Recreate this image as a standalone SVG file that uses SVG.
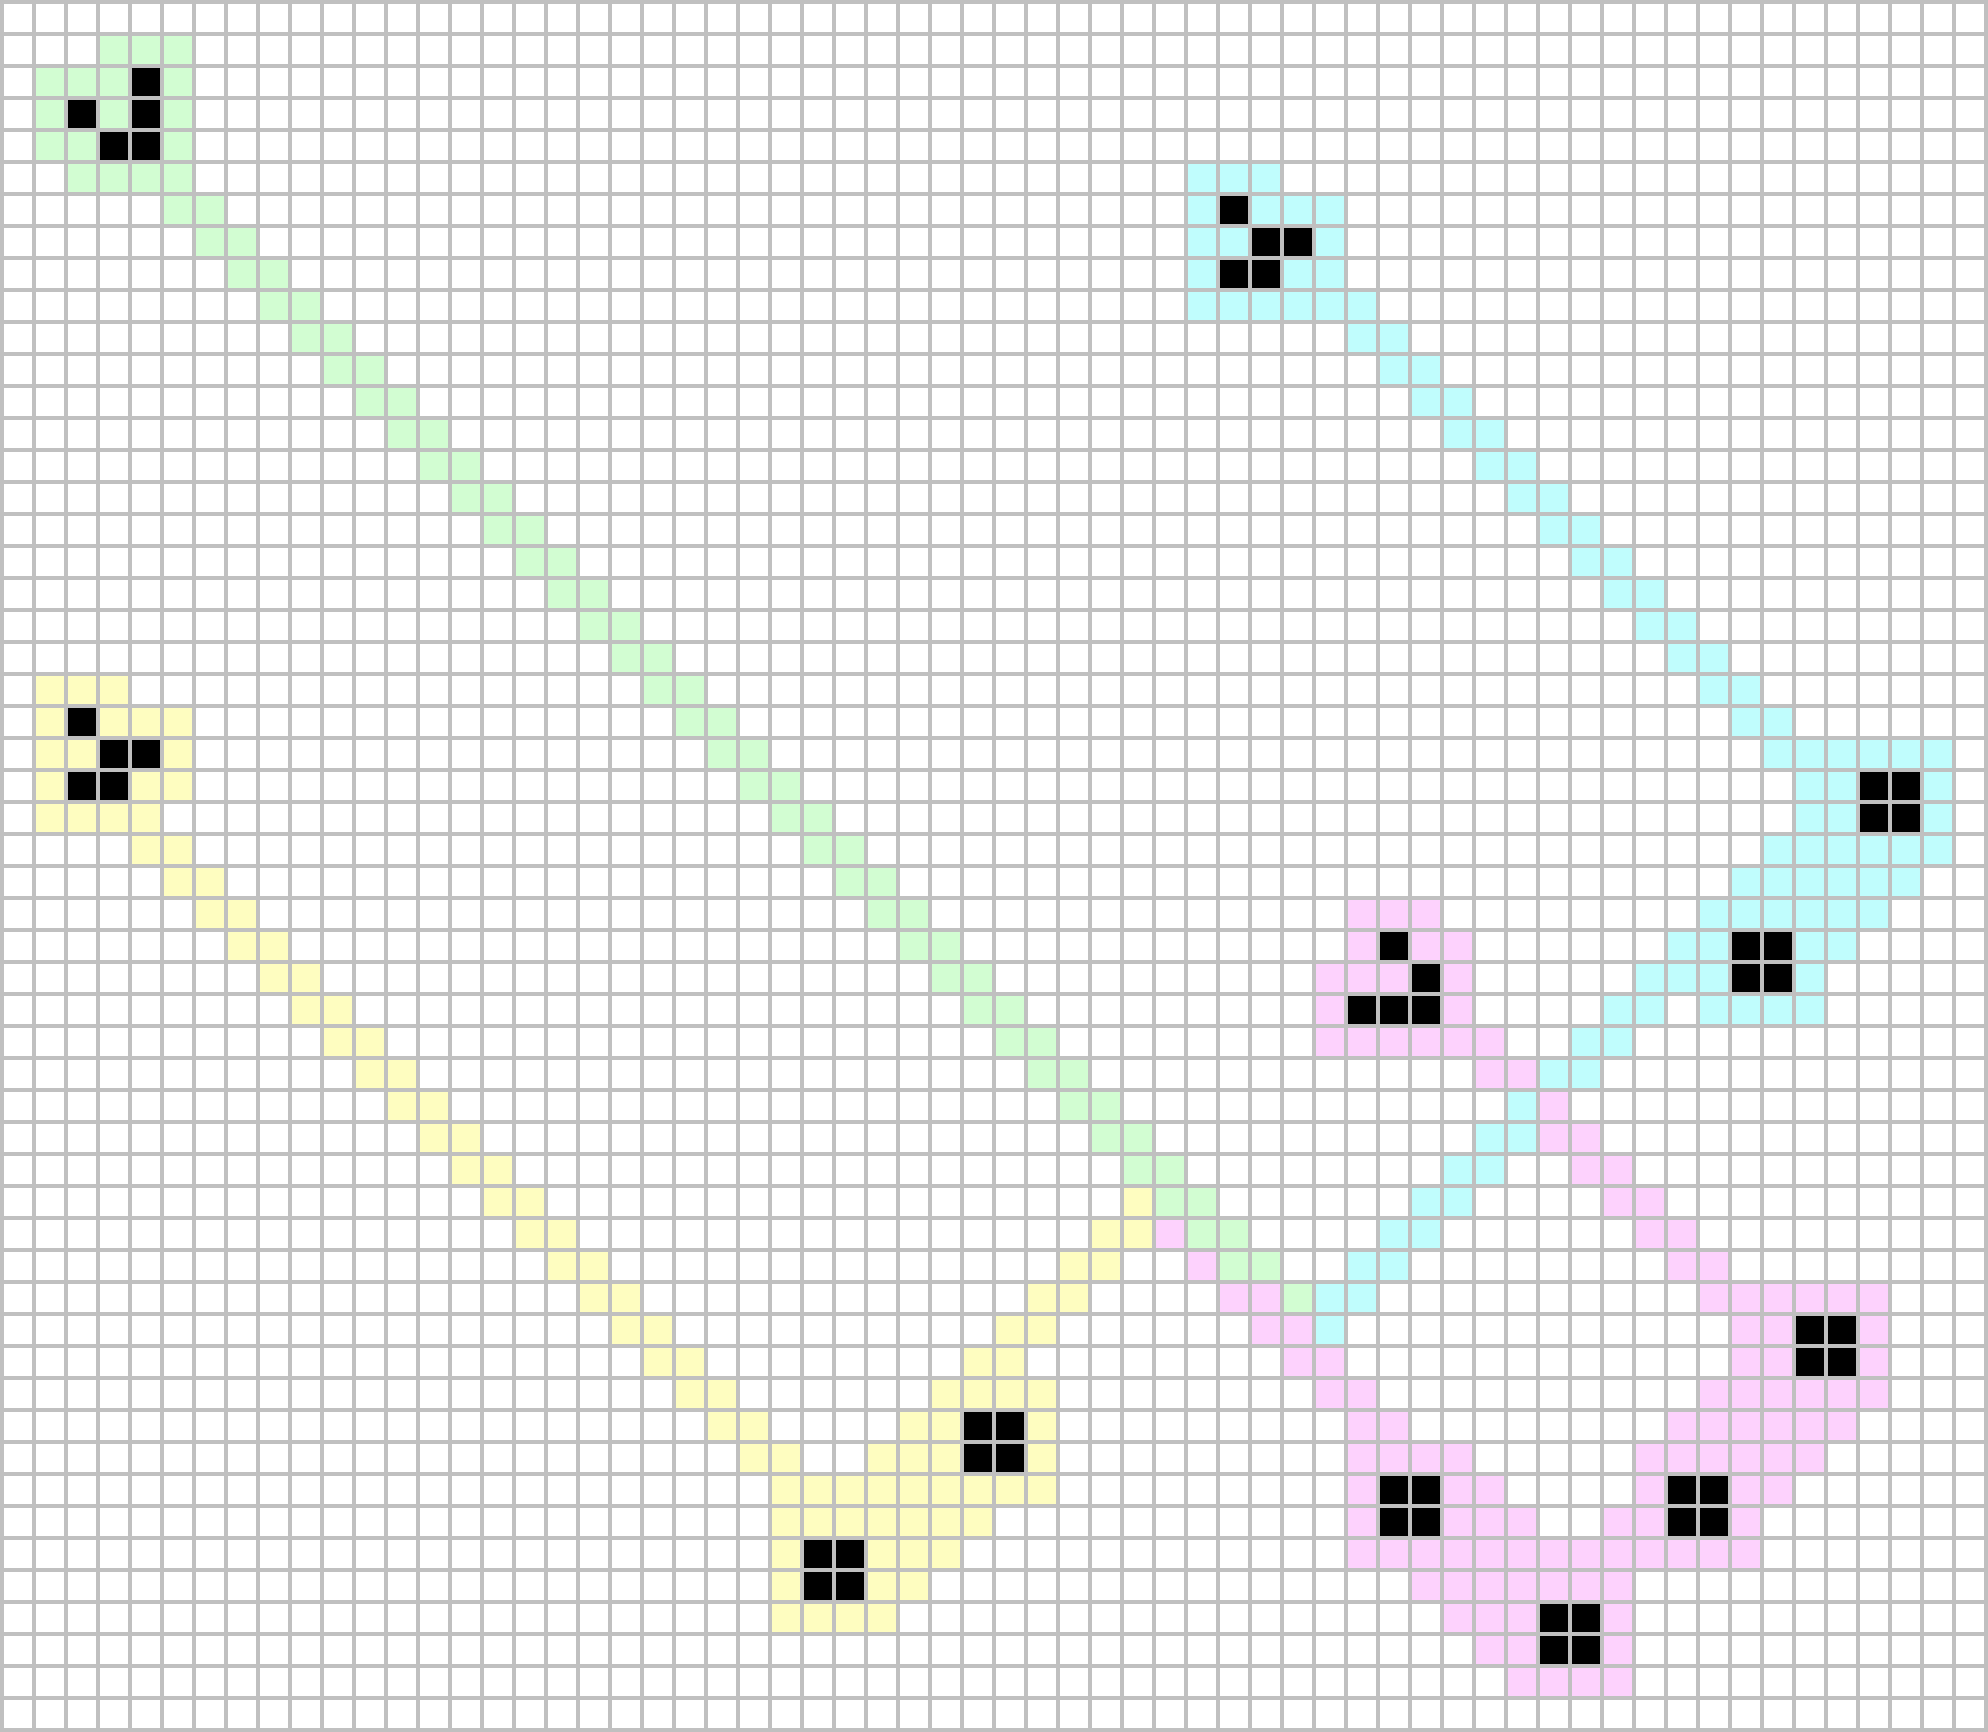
<svg xmlns="http://www.w3.org/2000/svg" xmlns:xlink="http://www.w3.org/1999/xlink" width="1988" height="1732" viewBox="0 0 1988 1732">
<style>
.bg{fill:#c0c0c0}
.g{fill:#d2fdd2}
.y{fill:#fefdc0}
.c{fill:#c0fdfd}
.p{fill:#fdd2fd}
.k{fill:#000}
</style>
<defs>
<pattern id="grid" width="32" height="32" patternUnits="userSpaceOnUse"><rect x="4" y="4" width="28" height="28" fill="#fff"/></pattern>
<rect id="q" width="0.875" height="0.875"/>
</defs>
<rect class="bg" x="0" y="0" width="1988" height="1732"/>
<rect x="0" y="0" width="1984" height="1728" fill="url(#grid)"/>
<g transform="translate(4 4) scale(32)">
<g id="green" class="g">
<use href="#q" x="3" y="1"/><use href="#q" x="4" y="1"/><use href="#q" x="5" y="1"/>
<use href="#q" x="1" y="2"/><use href="#q" x="2" y="2"/><use href="#q" x="3" y="2"/><use href="#q" x="5" y="2"/>
<use href="#q" x="1" y="3"/><use href="#q" x="3" y="3"/><use href="#q" x="5" y="3"/>
<use href="#q" x="1" y="4"/><use href="#q" x="2" y="4"/><use href="#q" x="5" y="4"/>
<use href="#q" x="2" y="5"/><use href="#q" x="3" y="5"/><use href="#q" x="4" y="5"/><use href="#q" x="5" y="5"/>
<use href="#q" x="5" y="6"/><use href="#q" x="6" y="6"/>
<use href="#q" x="6" y="7"/><use href="#q" x="7" y="7"/>
<use href="#q" x="7" y="8"/><use href="#q" x="8" y="8"/>
<use href="#q" x="8" y="9"/><use href="#q" x="9" y="9"/>
<use href="#q" x="9" y="10"/><use href="#q" x="10" y="10"/>
<use href="#q" x="10" y="11"/><use href="#q" x="11" y="11"/>
<use href="#q" x="11" y="12"/><use href="#q" x="12" y="12"/>
<use href="#q" x="12" y="13"/><use href="#q" x="13" y="13"/>
<use href="#q" x="13" y="14"/><use href="#q" x="14" y="14"/>
<use href="#q" x="14" y="15"/><use href="#q" x="15" y="15"/>
<use href="#q" x="15" y="16"/><use href="#q" x="16" y="16"/>
<use href="#q" x="16" y="17"/><use href="#q" x="17" y="17"/>
<use href="#q" x="17" y="18"/><use href="#q" x="18" y="18"/>
<use href="#q" x="18" y="19"/><use href="#q" x="19" y="19"/>
<use href="#q" x="19" y="20"/><use href="#q" x="20" y="20"/>
<use href="#q" x="20" y="21"/><use href="#q" x="21" y="21"/>
<use href="#q" x="21" y="22"/><use href="#q" x="22" y="22"/>
<use href="#q" x="22" y="23"/><use href="#q" x="23" y="23"/>
<use href="#q" x="23" y="24"/><use href="#q" x="24" y="24"/>
<use href="#q" x="24" y="25"/><use href="#q" x="25" y="25"/>
<use href="#q" x="25" y="26"/><use href="#q" x="26" y="26"/>
<use href="#q" x="26" y="27"/><use href="#q" x="27" y="27"/>
<use href="#q" x="27" y="28"/><use href="#q" x="28" y="28"/>
<use href="#q" x="28" y="29"/><use href="#q" x="29" y="29"/>
<use href="#q" x="29" y="30"/><use href="#q" x="30" y="30"/>
<use href="#q" x="30" y="31"/><use href="#q" x="31" y="31"/>
<use href="#q" x="31" y="32"/><use href="#q" x="32" y="32"/>
<use href="#q" x="32" y="33"/><use href="#q" x="33" y="33"/>
<use href="#q" x="33" y="34"/><use href="#q" x="34" y="34"/>
<use href="#q" x="34" y="35"/><use href="#q" x="35" y="35"/>
<use href="#q" x="35" y="36"/><use href="#q" x="36" y="36"/>
<use href="#q" x="36" y="37"/><use href="#q" x="37" y="37"/>
<use href="#q" x="37" y="38"/><use href="#q" x="38" y="38"/>
<use href="#q" x="38" y="39"/><use href="#q" x="39" y="39"/>
<use href="#q" x="40" y="40"/>
</g>
<g id="yellow" class="y">
<use href="#q" x="1" y="21"/><use href="#q" x="2" y="21"/><use href="#q" x="3" y="21"/>
<use href="#q" x="1" y="22"/><use href="#q" x="3" y="22"/><use href="#q" x="4" y="22"/><use href="#q" x="5" y="22"/>
<use href="#q" x="1" y="23"/><use href="#q" x="2" y="23"/><use href="#q" x="5" y="23"/>
<use href="#q" x="1" y="24"/><use href="#q" x="4" y="24"/><use href="#q" x="5" y="24"/>
<use href="#q" x="1" y="25"/><use href="#q" x="2" y="25"/><use href="#q" x="3" y="25"/><use href="#q" x="4" y="25"/>
<use href="#q" x="4" y="26"/><use href="#q" x="5" y="26"/>
<use href="#q" x="5" y="27"/><use href="#q" x="6" y="27"/>
<use href="#q" x="6" y="28"/><use href="#q" x="7" y="28"/>
<use href="#q" x="7" y="29"/><use href="#q" x="8" y="29"/>
<use href="#q" x="8" y="30"/><use href="#q" x="9" y="30"/>
<use href="#q" x="9" y="31"/><use href="#q" x="10" y="31"/>
<use href="#q" x="10" y="32"/><use href="#q" x="11" y="32"/>
<use href="#q" x="11" y="33"/><use href="#q" x="12" y="33"/>
<use href="#q" x="12" y="34"/><use href="#q" x="13" y="34"/>
<use href="#q" x="13" y="35"/><use href="#q" x="14" y="35"/>
<use href="#q" x="14" y="36"/><use href="#q" x="15" y="36"/>
<use href="#q" x="15" y="37"/><use href="#q" x="16" y="37"/><use href="#q" x="35" y="37"/>
<use href="#q" x="16" y="38"/><use href="#q" x="17" y="38"/><use href="#q" x="34" y="38"/><use href="#q" x="35" y="38"/>
<use href="#q" x="17" y="39"/><use href="#q" x="18" y="39"/><use href="#q" x="33" y="39"/><use href="#q" x="34" y="39"/>
<use href="#q" x="18" y="40"/><use href="#q" x="19" y="40"/><use href="#q" x="32" y="40"/><use href="#q" x="33" y="40"/>
<use href="#q" x="19" y="41"/><use href="#q" x="20" y="41"/><use href="#q" x="31" y="41"/><use href="#q" x="32" y="41"/>
<use href="#q" x="20" y="42"/><use href="#q" x="21" y="42"/><use href="#q" x="30" y="42"/><use href="#q" x="31" y="42"/>
<use href="#q" x="21" y="43"/><use href="#q" x="22" y="43"/><use href="#q" x="29" y="43"/><use href="#q" x="30" y="43"/><use href="#q" x="31" y="43"/><use href="#q" x="32" y="43"/>
<use href="#q" x="22" y="44"/><use href="#q" x="23" y="44"/><use href="#q" x="28" y="44"/><use href="#q" x="29" y="44"/><use href="#q" x="32" y="44"/>
<use href="#q" x="23" y="45"/><use href="#q" x="24" y="45"/><use href="#q" x="27" y="45"/><use href="#q" x="28" y="45"/><use href="#q" x="29" y="45"/><use href="#q" x="32" y="45"/>
<use href="#q" x="24" y="46"/><use href="#q" x="25" y="46"/><use href="#q" x="26" y="46"/><use href="#q" x="27" y="46"/><use href="#q" x="28" y="46"/><use href="#q" x="29" y="46"/><use href="#q" x="30" y="46"/><use href="#q" x="31" y="46"/><use href="#q" x="32" y="46"/>
<use href="#q" x="24" y="47"/><use href="#q" x="25" y="47"/><use href="#q" x="26" y="47"/><use href="#q" x="27" y="47"/><use href="#q" x="28" y="47"/><use href="#q" x="29" y="47"/><use href="#q" x="30" y="47"/>
<use href="#q" x="24" y="48"/><use href="#q" x="27" y="48"/><use href="#q" x="28" y="48"/><use href="#q" x="29" y="48"/>
<use href="#q" x="24" y="49"/><use href="#q" x="27" y="49"/><use href="#q" x="28" y="49"/>
<use href="#q" x="24" y="50"/><use href="#q" x="25" y="50"/><use href="#q" x="26" y="50"/><use href="#q" x="27" y="50"/>
</g>
<g id="cyan" class="c">
<use href="#q" x="37" y="5"/><use href="#q" x="38" y="5"/><use href="#q" x="39" y="5"/>
<use href="#q" x="37" y="6"/><use href="#q" x="39" y="6"/><use href="#q" x="40" y="6"/><use href="#q" x="41" y="6"/>
<use href="#q" x="37" y="7"/><use href="#q" x="38" y="7"/><use href="#q" x="41" y="7"/>
<use href="#q" x="37" y="8"/><use href="#q" x="40" y="8"/><use href="#q" x="41" y="8"/>
<use href="#q" x="37" y="9"/><use href="#q" x="38" y="9"/><use href="#q" x="39" y="9"/><use href="#q" x="40" y="9"/><use href="#q" x="41" y="9"/><use href="#q" x="42" y="9"/>
<use href="#q" x="42" y="10"/><use href="#q" x="43" y="10"/>
<use href="#q" x="43" y="11"/><use href="#q" x="44" y="11"/>
<use href="#q" x="44" y="12"/><use href="#q" x="45" y="12"/>
<use href="#q" x="45" y="13"/><use href="#q" x="46" y="13"/>
<use href="#q" x="46" y="14"/><use href="#q" x="47" y="14"/>
<use href="#q" x="47" y="15"/><use href="#q" x="48" y="15"/>
<use href="#q" x="48" y="16"/><use href="#q" x="49" y="16"/>
<use href="#q" x="49" y="17"/><use href="#q" x="50" y="17"/>
<use href="#q" x="50" y="18"/><use href="#q" x="51" y="18"/>
<use href="#q" x="51" y="19"/><use href="#q" x="52" y="19"/>
<use href="#q" x="52" y="20"/><use href="#q" x="53" y="20"/>
<use href="#q" x="53" y="21"/><use href="#q" x="54" y="21"/>
<use href="#q" x="54" y="22"/><use href="#q" x="55" y="22"/>
<use href="#q" x="55" y="23"/><use href="#q" x="56" y="23"/><use href="#q" x="57" y="23"/><use href="#q" x="58" y="23"/><use href="#q" x="59" y="23"/><use href="#q" x="60" y="23"/>
<use href="#q" x="56" y="24"/><use href="#q" x="57" y="24"/><use href="#q" x="60" y="24"/>
<use href="#q" x="56" y="25"/><use href="#q" x="57" y="25"/><use href="#q" x="60" y="25"/>
<use href="#q" x="55" y="26"/><use href="#q" x="56" y="26"/><use href="#q" x="57" y="26"/><use href="#q" x="58" y="26"/><use href="#q" x="59" y="26"/><use href="#q" x="60" y="26"/>
<use href="#q" x="54" y="27"/><use href="#q" x="55" y="27"/><use href="#q" x="56" y="27"/><use href="#q" x="57" y="27"/><use href="#q" x="58" y="27"/><use href="#q" x="59" y="27"/>
<use href="#q" x="53" y="28"/><use href="#q" x="54" y="28"/><use href="#q" x="55" y="28"/><use href="#q" x="56" y="28"/><use href="#q" x="57" y="28"/><use href="#q" x="58" y="28"/>
<use href="#q" x="52" y="29"/><use href="#q" x="53" y="29"/><use href="#q" x="56" y="29"/><use href="#q" x="57" y="29"/>
<use href="#q" x="51" y="30"/><use href="#q" x="52" y="30"/><use href="#q" x="53" y="30"/><use href="#q" x="56" y="30"/>
<use href="#q" x="50" y="31"/><use href="#q" x="51" y="31"/><use href="#q" x="53" y="31"/><use href="#q" x="54" y="31"/><use href="#q" x="55" y="31"/><use href="#q" x="56" y="31"/>
<use href="#q" x="49" y="32"/><use href="#q" x="50" y="32"/>
<use href="#q" x="48" y="33"/><use href="#q" x="49" y="33"/>
<use href="#q" x="47" y="34"/>
<use href="#q" x="46" y="35"/><use href="#q" x="47" y="35"/>
<use href="#q" x="45" y="36"/><use href="#q" x="46" y="36"/>
<use href="#q" x="44" y="37"/><use href="#q" x="45" y="37"/>
<use href="#q" x="43" y="38"/><use href="#q" x="44" y="38"/>
<use href="#q" x="42" y="39"/><use href="#q" x="43" y="39"/>
<use href="#q" x="41" y="40"/><use href="#q" x="42" y="40"/>
<use href="#q" x="41" y="41"/>
</g>
<g id="pink" class="p">
<use href="#q" x="42" y="28"/><use href="#q" x="43" y="28"/><use href="#q" x="44" y="28"/>
<use href="#q" x="42" y="29"/><use href="#q" x="44" y="29"/><use href="#q" x="45" y="29"/>
<use href="#q" x="41" y="30"/><use href="#q" x="42" y="30"/><use href="#q" x="43" y="30"/><use href="#q" x="45" y="30"/>
<use href="#q" x="41" y="31"/><use href="#q" x="45" y="31"/>
<use href="#q" x="41" y="32"/><use href="#q" x="42" y="32"/><use href="#q" x="43" y="32"/><use href="#q" x="44" y="32"/><use href="#q" x="45" y="32"/><use href="#q" x="46" y="32"/>
<use href="#q" x="46" y="33"/><use href="#q" x="47" y="33"/>
<use href="#q" x="48" y="34"/>
<use href="#q" x="48" y="35"/><use href="#q" x="49" y="35"/>
<use href="#q" x="49" y="36"/><use href="#q" x="50" y="36"/>
<use href="#q" x="50" y="37"/><use href="#q" x="51" y="37"/>
<use href="#q" x="36" y="38"/><use href="#q" x="51" y="38"/><use href="#q" x="52" y="38"/>
<use href="#q" x="37" y="39"/><use href="#q" x="52" y="39"/><use href="#q" x="53" y="39"/>
<use href="#q" x="38" y="40"/><use href="#q" x="39" y="40"/><use href="#q" x="53" y="40"/><use href="#q" x="54" y="40"/><use href="#q" x="55" y="40"/><use href="#q" x="56" y="40"/><use href="#q" x="57" y="40"/><use href="#q" x="58" y="40"/>
<use href="#q" x="39" y="41"/><use href="#q" x="40" y="41"/><use href="#q" x="54" y="41"/><use href="#q" x="55" y="41"/><use href="#q" x="58" y="41"/>
<use href="#q" x="40" y="42"/><use href="#q" x="41" y="42"/><use href="#q" x="54" y="42"/><use href="#q" x="55" y="42"/><use href="#q" x="58" y="42"/>
<use href="#q" x="41" y="43"/><use href="#q" x="42" y="43"/><use href="#q" x="53" y="43"/><use href="#q" x="54" y="43"/><use href="#q" x="55" y="43"/><use href="#q" x="56" y="43"/><use href="#q" x="57" y="43"/><use href="#q" x="58" y="43"/>
<use href="#q" x="42" y="44"/><use href="#q" x="43" y="44"/><use href="#q" x="52" y="44"/><use href="#q" x="53" y="44"/><use href="#q" x="54" y="44"/><use href="#q" x="55" y="44"/><use href="#q" x="56" y="44"/><use href="#q" x="57" y="44"/>
<use href="#q" x="42" y="45"/><use href="#q" x="43" y="45"/><use href="#q" x="44" y="45"/><use href="#q" x="45" y="45"/><use href="#q" x="51" y="45"/><use href="#q" x="52" y="45"/><use href="#q" x="53" y="45"/><use href="#q" x="54" y="45"/><use href="#q" x="55" y="45"/><use href="#q" x="56" y="45"/>
<use href="#q" x="42" y="46"/><use href="#q" x="45" y="46"/><use href="#q" x="46" y="46"/><use href="#q" x="51" y="46"/><use href="#q" x="54" y="46"/><use href="#q" x="55" y="46"/>
<use href="#q" x="42" y="47"/><use href="#q" x="45" y="47"/><use href="#q" x="46" y="47"/><use href="#q" x="47" y="47"/><use href="#q" x="50" y="47"/><use href="#q" x="51" y="47"/><use href="#q" x="54" y="47"/>
<use href="#q" x="42" y="48"/><use href="#q" x="43" y="48"/><use href="#q" x="44" y="48"/><use href="#q" x="45" y="48"/><use href="#q" x="46" y="48"/><use href="#q" x="47" y="48"/><use href="#q" x="48" y="48"/><use href="#q" x="49" y="48"/><use href="#q" x="50" y="48"/><use href="#q" x="51" y="48"/><use href="#q" x="52" y="48"/><use href="#q" x="53" y="48"/><use href="#q" x="54" y="48"/>
<use href="#q" x="44" y="49"/><use href="#q" x="45" y="49"/><use href="#q" x="46" y="49"/><use href="#q" x="47" y="49"/><use href="#q" x="48" y="49"/><use href="#q" x="49" y="49"/><use href="#q" x="50" y="49"/>
<use href="#q" x="45" y="50"/><use href="#q" x="46" y="50"/><use href="#q" x="47" y="50"/><use href="#q" x="50" y="50"/>
<use href="#q" x="46" y="51"/><use href="#q" x="47" y="51"/><use href="#q" x="50" y="51"/>
<use href="#q" x="47" y="52"/><use href="#q" x="48" y="52"/><use href="#q" x="49" y="52"/><use href="#q" x="50" y="52"/>
</g>
<g id="live" class="k">
<use href="#q" x="4" y="2"/><use href="#q" x="2" y="3"/><use href="#q" x="4" y="3"/><use href="#q" x="3" y="4"/><use href="#q" x="4" y="4"/>
<use href="#q" x="2" y="22"/><use href="#q" x="3" y="23"/><use href="#q" x="4" y="23"/><use href="#q" x="2" y="24"/><use href="#q" x="3" y="24"/>
<use href="#q" x="38" y="6"/><use href="#q" x="39" y="7"/><use href="#q" x="40" y="7"/><use href="#q" x="38" y="8"/><use href="#q" x="39" y="8"/>
<use href="#q" x="43" y="29"/><use href="#q" x="44" y="30"/><use href="#q" x="42" y="31"/><use href="#q" x="43" y="31"/><use href="#q" x="44" y="31"/>
<use href="#q" x="30" y="44"/><use href="#q" x="31" y="44"/><use href="#q" x="30" y="45"/><use href="#q" x="31" y="45"/>
<use href="#q" x="25" y="48"/><use href="#q" x="26" y="48"/><use href="#q" x="25" y="49"/><use href="#q" x="26" y="49"/>
<use href="#q" x="58" y="24"/><use href="#q" x="59" y="24"/><use href="#q" x="58" y="25"/><use href="#q" x="59" y="25"/>
<use href="#q" x="54" y="29"/><use href="#q" x="55" y="29"/><use href="#q" x="54" y="30"/><use href="#q" x="55" y="30"/>
<use href="#q" x="56" y="41"/><use href="#q" x="57" y="41"/><use href="#q" x="56" y="42"/><use href="#q" x="57" y="42"/>
<use href="#q" x="52" y="46"/><use href="#q" x="53" y="46"/><use href="#q" x="52" y="47"/><use href="#q" x="53" y="47"/>
<use href="#q" x="43" y="46"/><use href="#q" x="44" y="46"/><use href="#q" x="43" y="47"/><use href="#q" x="44" y="47"/>
<use href="#q" x="48" y="50"/><use href="#q" x="49" y="50"/><use href="#q" x="48" y="51"/><use href="#q" x="49" y="51"/>
</g>
</g>
</svg>
